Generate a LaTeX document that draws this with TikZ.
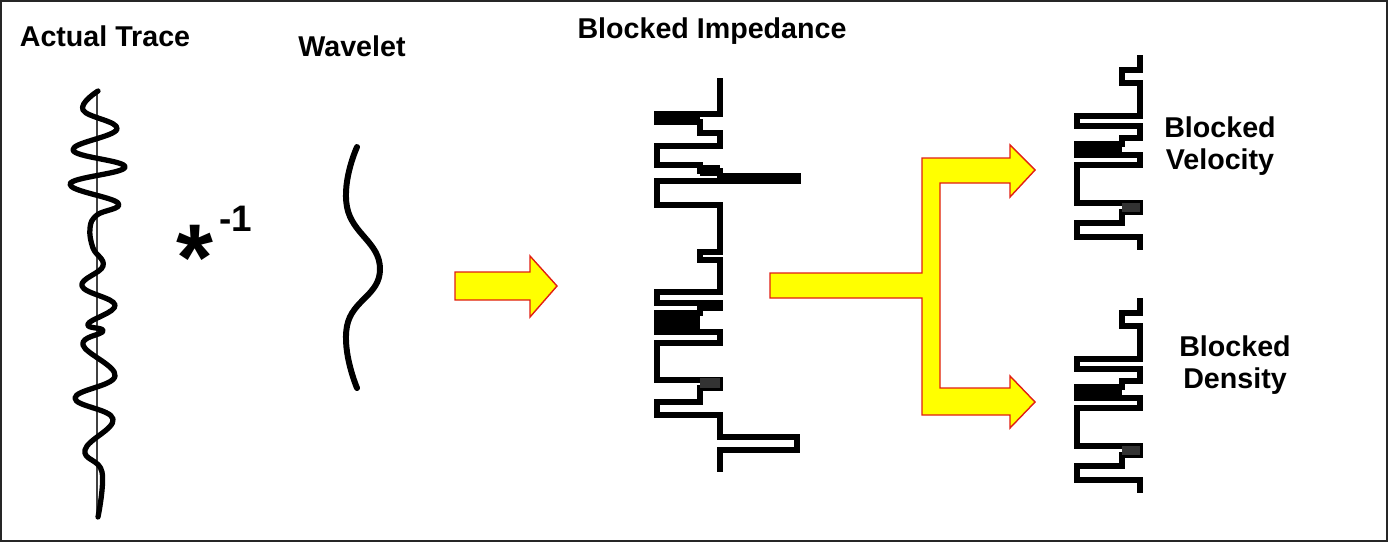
\documentclass[tikz,border=0pt]{standalone}
\usepackage{fontspec}
\setmainfont{Liberation Sans}
\definecolor{arrowfill}{RGB}{255,255,0}
\definecolor{arrowedge}{RGB}{225,30,20}

\begin{document}
\begin{tikzpicture}[
  x=0.02cm, y=-0.02cm,
  lbl/.style={font=\bfseries\fontsize{16.3}{18.5}\selectfont,align=center,inner sep=0pt},
  wiggle/.style={line width=3pt,line join=round,line cap=round},
  logline/.style={line width=3.1pt},
  fatarrow/.style={fill=arrowfill,draw=arrowedge,line width=0.8pt}
]
  \useasboundingbox (0,0) rectangle (1388,542);
  \draw[black!85,line width=0.9pt] (1,1) rectangle (1387,541);

  % labels
  \node[lbl] (tracelbl) at (105,36) {Actual Trace};
  \node[lbl] (wavelbl) at (352,46) {Wavelet};
  \node[lbl] (implbl) at (712,31) {Blocked Impedance};
  \node[lbl] (vellbl) at (1220,146) {Blocked\\Velocity};
  \node[lbl] (denlbl) at (1235,365) {Blocked\\Density};
  \node[lbl,font=\bfseries\fontsize{54}{54}\selectfont] (star) at (195,258) {*};
  \node[lbl,font=\bfseries\fontsize{21}{21}\selectfont] (inv) at (236,219) {-1};

  % actual trace
  \draw[black!75,line width=0.9pt] (97,92) -- (97,517);
  \draw[wiggle] plot[smooth,tension=0.7] coordinates {
    (98,91) (83,110) (117,129) (73,150) (125,167) (70,184) (118,203)
    (97,215) (90,228) (93,248) (103,266) (82,286) (115,305) (88,324)
    (103,331) (83,345) (115,376) (75,398) (113,419) (85,450) (102,472)
    (98,517)};

  % wavelet
  \draw[wiggle,line width=3.4pt] plot[smooth,tension=0.8] coordinates {
    (357,147) (347,207) (380,269) (347,326) (357,388)};

  % blocked impedance
  \draw[logline] (720,78) |- (657,114) |- (700,122) |- (720,133) |- (657,146)
    |- (700,165) |- (720,171) |- (798,176) |- (657,181) |- (720,205)
    |- (700,252) |- (720,260) |- (657,292) |- (720,303) |- (700,308)
    |- (657,313) |- (720,332) |- (657,343) |- (720,380) |- (700,388)
    |- (657,402) |- (720,415) |- (797,437) |- (720,450) -- (720,472);
  \fill (657,115) rectangle (700,122);
  \fill (720,175) rectangle (798,183);
  \fill (700,165) rectangle (720,176);
  \fill (657,313) rectangle (700,330);
  \fill[black!80] (700,378) rectangle (720,388);

  % blocked velocity and density
  \foreach \dy in {0,243} {
    \begin{scope}[shift={(0,\dy)}]
      \draw[logline] (1140,55) |- (1122,70) |- (1140,83) |- (1077,116)
        |- (1140,126) |- (1122,138) |- (1077,144) |- (1140,155)
        |- (1077,165) |- (1140,203) |- (1122,212) |- (1077,223)
        |- (1140,237) -- (1140,250);
      \fill (1077,144) rectangle (1122,155);
      \fill[black!80] (1122,203) rectangle (1140,212);
    \end{scope}
  }

  % yellow arrows
  \draw[fatarrow] (455,272) -- (530,272) -- (530,256) -- (557,286)
    -- (530,317) -- (530,300) -- (455,300) -- cycle;
  \draw[fatarrow] (770,273) -- (922,273) -- (922,158) -- (1010,158)
    -- (1010,145) -- (1035,170) -- (1010,197) -- (1010,183) -- (940,183)
    -- (940,388) -- (1010,388) -- (1010,376) -- (1035,402) -- (1010,428)
    -- (1010,415) -- (922,415) -- (922,298) -- (770,298) -- cycle;
\end{tikzpicture}
\end{document}
